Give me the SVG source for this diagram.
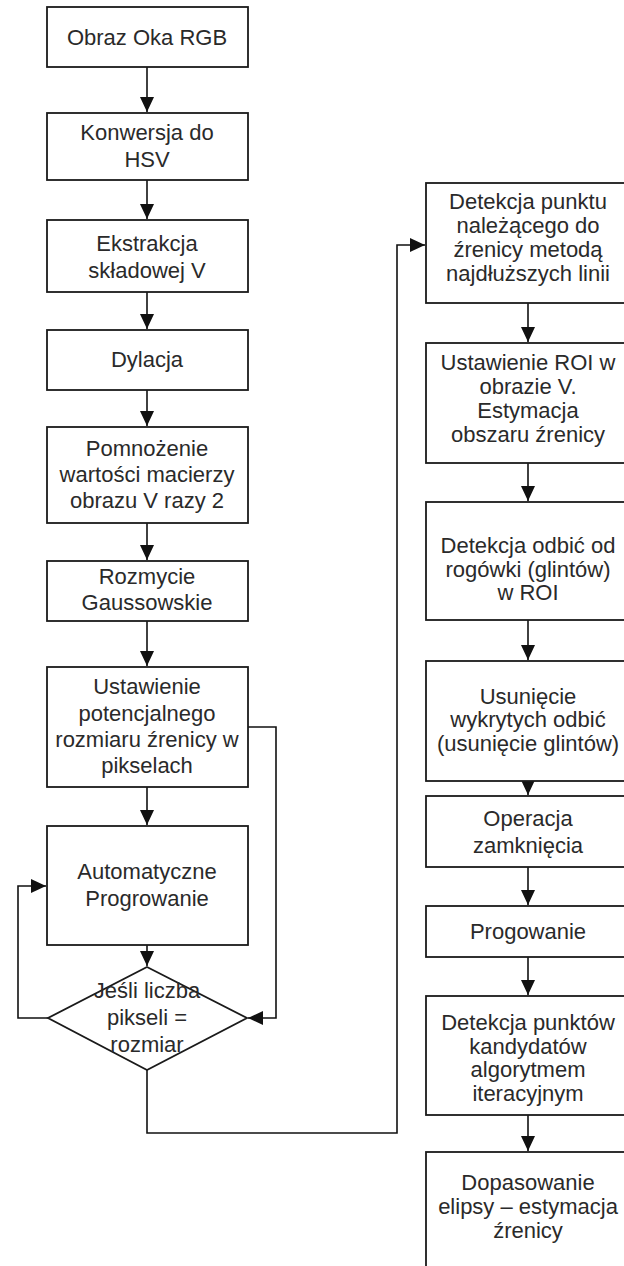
<svg xmlns="http://www.w3.org/2000/svg" width="624" height="1266" viewBox="0 0 624 1266">
<defs>
<marker id="ah" markerUnits="userSpaceOnUse" markerWidth="16" markerHeight="15" refX="15" refY="7" orient="auto">
<path d="M0,0 L15,7 L0,14 z" fill="#111"/>
</marker>
<style>
.box{fill:#fff;stroke:#1a1a1a;stroke-width:1.8}
.t{font-family:"Liberation Sans",Arial,sans-serif;font-size:22px;fill:#2a2a2a;text-anchor:middle}
.c{fill:none;stroke:#111;stroke-width:1.6}
</style>
</defs>
<rect width="624" height="1266" fill="#fff"/>
<g id="connectors">
<path class="c" d="M147,67 V112" marker-end="url(#ah)"/>
<path class="c" d="M147,180 V219" marker-end="url(#ah)"/>
<path class="c" d="M147,292 V329" marker-end="url(#ah)"/>
<path class="c" d="M147,390 V426" marker-end="url(#ah)"/>
<path class="c" d="M147,523 V560" marker-end="url(#ah)"/>
<path class="c" d="M147,621 V666" marker-end="url(#ah)"/>
<path class="c" d="M147,787 V825" marker-end="url(#ah)"/>
<path class="c" d="M147,945 V966" marker-end="url(#ah)"/>
<path class="c" d="M248,727 H276 V1018 H248" marker-end="url(#ah)"/>
<path class="c" d="M48,1018 H18 V886 H46" marker-end="url(#ah)"/>
<path class="c" d="M147,1070 V1133 H397 V245 H425" marker-end="url(#ah)"/>
<path class="c" d="M528,303 V342" marker-end="url(#ah)"/>
<path class="c" d="M528,463 V501" marker-end="url(#ah)"/>
<path class="c" d="M528,620 V660" marker-end="url(#ah)"/>
<path class="c" d="M528,781 V795" marker-end="url(#ah)"/>
<path class="c" d="M528,867 V905" marker-end="url(#ah)"/>
<path class="c" d="M528,957 V995" marker-end="url(#ah)"/>
<path class="c" d="M528,1115 V1151" marker-end="url(#ah)"/>
</g>
<g id="n1"><rect class="box" x="47" y="7" width="201" height="60"/><text class="t" x="147" y="45">Obraz Oka RGB</text></g>
<g id="n2"><rect class="box" x="47" y="113" width="201" height="67"/><text class="t" x="147" y="140">Konwersja do</text><text class="t" x="147" y="167">HSV</text></g>
<g id="n3"><rect class="box" x="47" y="220" width="201" height="72"/><text class="t" x="147" y="251">Ekstrakcja</text><text class="t" x="147" y="278">składowej V</text></g>
<g id="n4"><rect class="box" x="47" y="330" width="201" height="60"/><text class="t" x="147" y="367">Dylacja</text></g>
<g id="n5"><rect class="box" x="47" y="427" width="201" height="96"/><text class="t" x="147" y="456">Pomnożenie</text><text class="t" x="147" y="482">wartości macierzy</text><text class="t" x="147" y="508">obrazu V razy 2</text></g>
<g id="n6"><rect class="box" x="47" y="561" width="201" height="60"/><text class="t" x="147" y="584">Rozmycie</text><text class="t" x="147" y="610">Gaussowskie</text></g>
<g id="n7"><rect class="box" x="47" y="667" width="201" height="120"/><text class="t" x="147" y="694">Ustawienie</text><text class="t" x="147" y="721">potencjalnego</text><text class="t" x="147" y="747">rozmiaru źrenicy w</text><text class="t" x="147" y="773">pikselach</text></g>
<g id="n8"><rect class="box" x="47" y="826" width="201" height="119"/><text class="t" x="147" y="879">Automatyczne</text><text class="t" x="147" y="906">Progrowanie</text></g>
<g id="n9"><polygon class="box" points="147,967 247,1018 147,1070 48,1018"/><text class="t" x="147" y="998">Jeśli liczba</text><text class="t" x="147" y="1025">pikseli =</text><text class="t" x="147" y="1052">rozmiar</text></g>
<g id="n10"><rect class="box" x="426" y="183" width="204" height="120"/><text class="t" x="528" y="209">Detekcja punktu</text><text class="t" x="528" y="233">należącego do</text><text class="t" x="528" y="257">źrenicy metodą</text><text class="t" x="528" y="281">najdłuższych linii</text></g>
<g id="n11"><rect class="box" x="426" y="343" width="204" height="120"/><text class="t" x="528" y="370">Ustawienie ROI w</text><text class="t" x="528" y="394">obrazie V.</text><text class="t" x="528" y="418">Estymacja</text><text class="t" x="528" y="442">obszaru źrenicy</text></g>
<g id="n12"><rect class="box" x="426" y="502" width="204" height="118"/><text class="t" x="528" y="553">Detekcja odbić od</text><text class="t" x="528" y="577">rogówki (glintów)</text><text class="t" x="528" y="600">w ROI</text></g>
<g id="n13"><rect class="box" x="426" y="661" width="204" height="120"/><text class="t" x="528" y="704">Usunięcie</text><text class="t" x="528" y="727">wykrytych odbić</text><text class="t" x="528" y="751">(usunięcie glintów)</text></g>
<g id="n14"><rect class="box" x="426" y="796" width="204" height="71"/><text class="t" x="528" y="826">Operacja</text><text class="t" x="528" y="853">zamknięcia</text></g>
<g id="n15"><rect class="box" x="426" y="906" width="204" height="51"/><text class="t" x="528" y="939">Progowanie</text></g>
<g id="n16"><rect class="box" x="426" y="996" width="204" height="119"/><text class="t" x="528" y="1030">Detekcja punktów</text><text class="t" x="528" y="1054">kandydatów</text><text class="t" x="528" y="1077">algorytmem</text><text class="t" x="528" y="1101">iteracyjnym</text></g>
<g id="n17"><rect class="box" x="426" y="1152" width="204" height="130"/><text class="t" x="528" y="1190">Dopasowanie</text><text class="t" x="528" y="1214">elipsy – estymacja</text><text class="t" x="528" y="1238">źrenicy</text></g>
</svg>
